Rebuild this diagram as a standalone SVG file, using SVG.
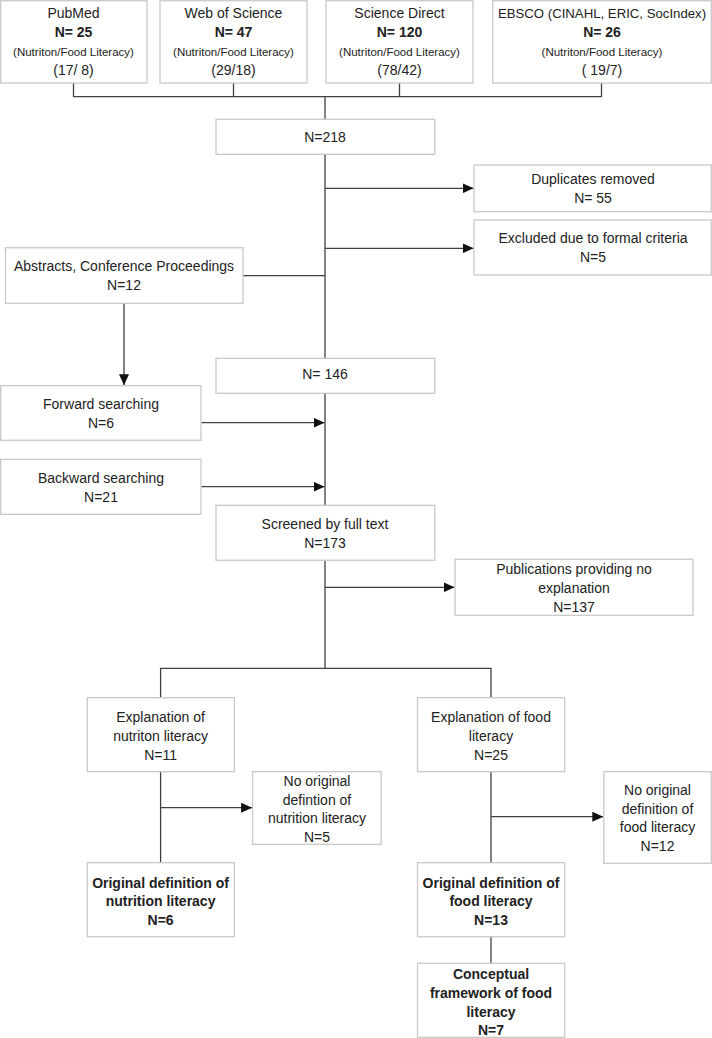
<svg xmlns="http://www.w3.org/2000/svg" width="712" height="1038" viewBox="0 0 712 1038">
<style>
.box{fill:#fff;stroke:#c9c9c9;stroke-width:1.3}
.ln{fill:none;stroke:#404040;stroke-width:1.3}
text{font-family:"Liberation Sans",Arial,sans-serif;font-size:14px;fill:#222;text-anchor:middle}
.b{font-weight:bold}
.s{font-size:11.5px}
.e{font-size:13.2px}
</style>
<defs>
<marker id="ah" markerUnits="userSpaceOnUse" markerWidth="12" markerHeight="10" refX="11" refY="5" orient="auto">
<path d="M0,0 L11,5 L0,10 Z" fill="#111"/>
</marker>
</defs>
<rect width="712" height="1038" fill="#fff"/>
<g id="connectors">
<path class="ln" d="M73.5,83 V96.7 H601.5 V83 M233.5,83 V96.7 M399.5,83 V96.7 M325,96.7 V119.3"/>
<path class="ln" d="M325,154.3 V358.3 M325,393.3 V505.3 M325,560.3 V668.3 M160.6,697.7 V668.3 H491 V697.7"/>
<path class="ln" d="M325,188.3 H473.5" marker-end="url(#ah)"/>
<path class="ln" d="M325,248.3 H473.5" marker-end="url(#ah)"/>
<path class="ln" d="M243,275.7 H325"/>
<path class="ln" d="M124,303.3 V385.2" marker-end="url(#ah)"/>
<path class="ln" d="M201,422.7 H324.5" marker-end="url(#ah)"/>
<path class="ln" d="M201,486.7 H324.5" marker-end="url(#ah)"/>
<path class="ln" d="M325,587.3 H454.5" marker-end="url(#ah)"/>
<path class="ln" d="M160.6,771.7 V862.7 M160.6,807.7 H252.1" marker-end="url(#ah)"/>
<path class="ln" d="M491,771.7 V862.7 M491,936.7 V963.3"/>
<path class="ln" d="M491,816.7 H603.3" marker-end="url(#ah)"/>
</g>
<g id="pubmed">
<rect class="box" x="0.7" y="0.7" width="146.3" height="82.3"/>
<text x="73.5" y="18.3">PubMed</text>
<text class="b" x="73.5" y="37.3">N= 25</text>
<text class="s" x="73.5" y="56.3">(Nutriton/Food Literacy)</text>
<text x="73.5" y="75">(17/ 8)</text>
</g>
<g id="wos">
<rect class="box" x="160" y="0.7" width="147" height="82.3"/>
<text x="233.5" y="18.3">Web of Science</text>
<text class="b" x="233.5" y="37.3">N= 47</text>
<text class="s" x="233.5" y="56.3">(Nutriton/Food Literacy)</text>
<text x="233.5" y="75">(29/18)</text>
</g>
<g id="sd">
<rect class="box" x="326" y="0.7" width="147" height="82.3"/>
<text x="399.5" y="18.3">Science Direct</text>
<text class="b" x="399.5" y="37.3">N= 120</text>
<text class="s" x="399.5" y="56.3">(Nutriton/Food Literacy)</text>
<text x="399.5" y="75">(78/42)</text>
</g>
<g id="ebsco">
<rect class="box" x="492.7" y="0.7" width="218.6" height="82.3"/>
<text class="e" x="602" y="18.3">EBSCO (CINAHL, ERIC, SocIndex)</text>
<text class="b" x="602" y="37.3">N= 26</text>
<text class="s" x="602" y="56.3">(Nutriton/Food Literacy)</text>
<text x="602" y="75">( 19/7)</text>
</g>
<g id="n218">
<rect class="box" x="216" y="119.3" width="218.7" height="35"/>
<text x="325" y="141.7">N=218</text>
</g>
<g id="duplicates">
<rect class="box" x="474" y="165" width="237.3" height="46.7"/>
<text x="593" y="184.3">Duplicates removed</text>
<text x="593" y="203">N= 55</text>
</g>
<g id="excluded">
<rect class="box" x="474" y="220" width="237.3" height="55"/>
<text x="593" y="243.3">Excluded due to formal criteria</text>
<text x="593" y="262">N=5</text>
</g>
<g id="abstracts">
<rect class="box" x="5.5" y="247.7" width="237.5" height="55.6"/>
<text x="124" y="271">Abstracts, Conference Proceedings</text>
<text x="124" y="289.5">N=12</text>
</g>
<g id="n146">
<rect class="box" x="216" y="358.3" width="218.7" height="35"/>
<text x="325" y="379">N= 146</text>
</g>
<g id="forward">
<rect class="box" x="0.7" y="385.7" width="200.3" height="54.6"/>
<text x="101" y="409">Forward searching</text>
<text x="101" y="427.5">N=6</text>
</g>
<g id="backward">
<rect class="box" x="0.7" y="459.3" width="200.3" height="55"/>
<text x="101" y="483">Backward searching</text>
<text x="101" y="501.5">N=21</text>
</g>
<g id="screened">
<rect class="box" x="216" y="505.3" width="218.7" height="55"/>
<text x="325" y="529">Screened by full text</text>
<text x="325" y="547.5">N=173</text>
</g>
<g id="publications">
<rect class="box" x="455" y="559.3" width="238" height="56"/>
<text x="574" y="574.3">Publications providing no</text>
<text x="574" y="593">explanation</text>
<text x="574" y="611.7">N=137</text>
</g>
<g id="expl-nutrition">
<rect class="box" x="87.3" y="697.7" width="147.1" height="74"/>
<text x="160.6" y="721.7">Explanation of</text>
<text x="160.6" y="740.5">nutriton literacy</text>
<text x="160.6" y="759.5">N=11</text>
</g>
<g id="expl-food">
<rect class="box" x="417.5" y="697.7" width="147.2" height="74"/>
<text x="491" y="721.7">Explanation of food</text>
<text x="491" y="740.5">literacy</text>
<text x="491" y="759.5">N=25</text>
</g>
<g id="noorig-nutrition">
<rect class="box" x="252.6" y="771.7" width="128.6" height="72.6"/>
<text x="317" y="786">No original</text>
<text x="317" y="804.5">defintion of</text>
<text x="317" y="823.2">nutrition literacy</text>
<text x="317" y="841.9">N=5</text>
</g>
<g id="noorig-food">
<rect class="box" x="603.8" y="771.7" width="107.5" height="91.6"/>
<text x="657.5" y="795">No original</text>
<text x="657.5" y="813.5">definition of</text>
<text x="657.5" y="832.2">food literacy</text>
<text x="657.5" y="850.9">N=12</text>
</g>
<g id="orig-nutrition">
<rect class="box" x="87.3" y="862.7" width="147.1" height="74"/>
<text class="b" x="160.6" y="887.5">Original definition of</text>
<text class="b" x="160.6" y="906">nutrition literacy</text>
<text class="b" x="160.6" y="924.8">N=6</text>
</g>
<g id="orig-food">
<rect class="box" x="417.5" y="862.7" width="147.2" height="74"/>
<text class="b" x="491" y="887.5">Original definition of</text>
<text class="b" x="491" y="906">food literacy</text>
<text class="b" x="491" y="924.8">N=13</text>
</g>
<g id="conceptual">
<rect class="box" x="417.5" y="963.3" width="147.2" height="74"/>
<text class="b" x="491" y="979.3">Conceptual</text>
<text class="b" x="491" y="997.7">framework of food</text>
<text class="b" x="491" y="1016.5">literacy</text>
<text class="b" x="491" y="1035.3">N=7</text>
</g>
</svg>
